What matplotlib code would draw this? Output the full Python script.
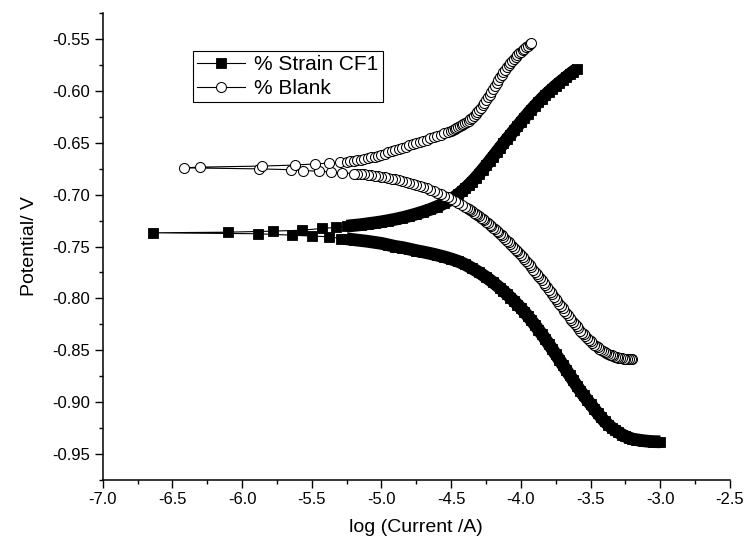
import matplotlib
matplotlib.use("Agg")
import matplotlib.pyplot as plt
from matplotlib.ticker import MultipleLocator, FormatStrFormatter

plt.rcParams['font.family'] = ['Liberation Sans', 'DejaVu Sans']
plt.rcParams['axes.unicode_minus'] = False

# ---- % Strain CF1 : potential sweep, cathodic branch -> near Ecorr -> anodic branch
cf1_cath_logi = [-3.000, -3.025, -3.050, -3.075, -3.100, -3.125, -3.150, -3.175, -3.200, -3.225,
                 -3.250, -3.275, -3.300, -3.325, -3.350, -3.375, -3.400, -3.425, -3.450, -3.475,
                 -3.500, -3.525, -3.550, -3.575, -3.600, -3.625, -3.650, -3.675, -3.700, -3.725,
                 -3.750, -3.775, -3.800, -3.825, -3.850, -3.875, -3.900, -3.925, -3.950, -3.975,
                 -4.000, -4.025, -4.050, -4.075, -4.100, -4.125, -4.150, -4.200, -4.250, -4.300,
                 -4.350, -4.400, -4.450, -4.500, -4.550, -4.600, -4.650, -4.700, -4.750, -4.800,
                 -4.850, -4.900, -4.950, -5.000, -5.050, -5.100, -5.150, -5.200, -5.250]
cf1_cath_E = [-0.9382, -0.9381, -0.9380, -0.9378, -0.9375, -0.9371, -0.9366, -0.9361, -0.9355, -0.9343,
              -0.9330, -0.9312, -0.9292, -0.9270, -0.9245, -0.9216, -0.9185, -0.9146, -0.9105, -0.9063,
              -0.9020, -0.8978, -0.8935, -0.8888, -0.8840, -0.8790, -0.8740, -0.8690, -0.8640, -0.8590,
              -0.8540, -0.8490, -0.8440, -0.8392, -0.8345, -0.8300, -0.8255, -0.8212, -0.8170, -0.8132,
              -0.8095, -0.8060, -0.8025, -0.7992, -0.7960, -0.7930, -0.7900, -0.7845, -0.7795, -0.7750,
              -0.7710, -0.7673, -0.7643, -0.7620, -0.7600, -0.7583, -0.7567, -0.7553, -0.7540, -0.7525,
              -0.7510, -0.7500, -0.7485, -0.7470, -0.7460, -0.7450, -0.7442, -0.7434, -0.7426]
cf1_ecorr_logi = [-5.292, -5.378, -5.495, -5.641, -5.889, -6.642, -6.102, -5.781, -5.569, -5.426, -5.323]
cf1_ecorr_E = [-0.7423, -0.7406, -0.7400, -0.7391, -0.7377, -0.7368, -0.7362, -0.7352, -0.7343, -0.7326, -0.7316]
cf1_anod_logi = [-5.250, -5.200, -5.150, -5.100, -5.050, -5.000, -4.950, -4.900, -4.850, -4.800,
                 -4.750, -4.700, -4.650, -4.600, -4.550, -4.500, -4.475, -4.450, -4.425, -4.400,
                 -4.375, -4.350, -4.325, -4.300, -4.275, -4.250, -4.225, -4.200, -4.175, -4.150,
                 -4.125, -4.100, -4.075, -4.050, -4.025, -4.000, -3.975, -3.950, -3.925, -3.900,
                 -3.875, -3.850, -3.825, -3.800, -3.775, -3.750, -3.725, -3.700, -3.675, -3.650,
                 -3.625, -3.600]
cf1_anod_E = [-0.7304, -0.7297, -0.7290, -0.7281, -0.7272, -0.7262, -0.7250, -0.7237, -0.7222, -0.7205,
              -0.7186, -0.7165, -0.7142, -0.7115, -0.7083, -0.7045, -0.7022, -0.6997, -0.6970, -0.6940,
              -0.6908, -0.6874, -0.6838, -0.6800, -0.6760, -0.6719, -0.6677, -0.6634, -0.6591, -0.6548,
              -0.6506, -0.6464, -0.6423, -0.6382, -0.6341, -0.6300, -0.6260, -0.6220, -0.6182, -0.6145,
              -0.6110, -0.6075, -0.6042, -0.6010, -0.5980, -0.5950, -0.5922, -0.5895, -0.5867, -0.5840,
              -0.5815, -0.5790]

# ---- % Blank
blank_cath_logi = [-3.2000, -3.2125, -3.2250, -3.2375, -3.2500, -3.2625, -3.2750, -3.2875, -3.3000, -3.3125,
                   -3.3250, -3.3375, -3.3500, -3.3625, -3.3750, -3.3875, -3.4000, -3.4125, -3.4250, -3.4375,
                   -3.4500, -3.4625, -3.4750, -3.4875, -3.5000, -3.5125, -3.5250, -3.5375, -3.5500, -3.5625,
                   -3.5750, -3.5875, -3.6000, -3.6125, -3.6250, -3.6375, -3.6500, -3.6625, -3.6750, -3.6875,
                   -3.7000, -3.7125, -3.7250, -3.7375, -3.7500, -3.7625, -3.7750, -3.7875, -3.8000, -3.8125,
                   -3.8250, -3.8375, -3.8500, -3.8625, -3.8750, -3.8875, -3.9000, -3.9125, -3.9250, -3.9375,
                   -3.9500, -3.9625, -3.9750, -3.9875, -4.0000, -4.0125, -4.0250, -4.0375, -4.0500, -4.0625,
                   -4.0750, -4.0875, -4.1000, -4.1125, -4.1250, -4.1375, -4.1500, -4.1625, -4.1750, -4.1875,
                   -4.2000, -4.2125, -4.2250, -4.2375, -4.2500, -4.2625, -4.2750, -4.2875, -4.3000, -4.3125,
                   -4.3250, -4.3375, -4.3500, -4.3625, -4.3750, -4.3875, -4.4000, -4.4250, -4.4500, -4.4750,
                   -4.5000, -4.5250, -4.5500, -4.5750, -4.6000, -4.6250, -4.6500, -4.6750, -4.7000, -4.7250,
                   -4.7500, -4.7750, -4.8000, -4.8250, -4.8500, -4.8750, -4.9000, -4.9250, -4.9500, -4.9750,
                   -5.0000, -5.0250, -5.0500, -5.0750, -5.1000, -5.1250, -5.1500, -5.1750, -5.2000]
blank_cath_E = [-0.8588, -0.8588, -0.8587, -0.8586, -0.8584, -0.8582, -0.8579, -0.8576, -0.8572, -0.8567,
                -0.8562, -0.8556, -0.8550, -0.8543, -0.8535, -0.8526, -0.8517, -0.8507, -0.8496, -0.8484,
                -0.8472, -0.8459, -0.8445, -0.8430, -0.8415, -0.8399, -0.8382, -0.8365, -0.8347, -0.8329,
                -0.8310, -0.8290, -0.8270, -0.8249, -0.8228, -0.8207, -0.8185, -0.8163, -0.8140, -0.8118,
                -0.8095, -0.8073, -0.8050, -0.8028, -0.8005, -0.7983, -0.7960, -0.7938, -0.7915, -0.7893,
                -0.7870, -0.7849, -0.7827, -0.7806, -0.7785, -0.7764, -0.7743, -0.7723, -0.7702, -0.7682,
                -0.7662, -0.7643, -0.7623, -0.7604, -0.7585, -0.7567, -0.7548, -0.7530, -0.7512, -0.7495,
                -0.7477, -0.7460, -0.7443, -0.7427, -0.7410, -0.7394, -0.7378, -0.7363, -0.7348, -0.7333,
                -0.7318, -0.7304, -0.7290, -0.7276, -0.7262, -0.7249, -0.7236, -0.7223, -0.7210, -0.7198,
                -0.7186, -0.7174, -0.7162, -0.7151, -0.7140, -0.7129, -0.7118, -0.7098, -0.7078, -0.7060,
                -0.7042, -0.7026, -0.7010, -0.6995, -0.6980, -0.6966, -0.6952, -0.6939, -0.6927, -0.6916,
                -0.6905, -0.6895, -0.6885, -0.6876, -0.6867, -0.6859, -0.6852, -0.6845, -0.6838, -0.6832,
                -0.6827, -0.6822, -0.6818, -0.6814, -0.6810, -0.6806, -0.6803, -0.6800, -0.6797]
blank_ecorr_logi = [-5.280, -5.360, -5.450, -5.560, -5.650, -5.880, -6.420, -6.300, -5.860, -5.620,
                    -5.480, -5.380, -5.300]
blank_ecorr_E = [-0.6790, -0.6782, -0.6775, -0.6768, -0.6760, -0.6752, -0.6742, -0.6735, -0.6725, -0.6715,
                 -0.6705, -0.6697, -0.6690]
blank_anod_logi = [-5.2500, -5.2250, -5.2000, -5.1750, -5.1500, -5.1250, -5.1000, -5.0750, -5.0500, -5.0250,
                   -5.0000, -4.9750, -4.9500, -4.9250, -4.9000, -4.8750, -4.8500, -4.8250, -4.8000, -4.7750,
                   -4.7500, -4.7250, -4.7000, -4.6750, -4.6500, -4.6250, -4.6000, -4.5750, -4.5500, -4.5250,
                   -4.5000, -4.4875, -4.4750, -4.4625, -4.4500, -4.4375, -4.4250, -4.4125, -4.4000, -4.3875,
                   -4.3750, -4.3625, -4.3500, -4.3375, -4.3250, -4.3125, -4.3000, -4.2875, -4.2750, -4.2625,
                   -4.2500, -4.2375, -4.2250, -4.2125, -4.2000, -4.1875, -4.1750, -4.1625, -4.1500, -4.1375,
                   -4.1250, -4.1125, -4.1000, -4.0875, -4.0750, -4.0625, -4.0500, -4.0375, -4.0250, -4.0125,
                   -4.0000, -3.9875, -3.9750, -3.9625, -3.9500, -3.9375, -3.9250]
blank_anod_E = [-0.6685, -0.6680, -0.6675, -0.6669, -0.6663, -0.6657, -0.6650, -0.6642, -0.6634, -0.6625,
                -0.6615, -0.6605, -0.6594, -0.6583, -0.6572, -0.6561, -0.6549, -0.6538, -0.6526, -0.6515,
                -0.6503, -0.6492, -0.6480, -0.6469, -0.6457, -0.6446, -0.6434, -0.6422, -0.6410, -0.6397,
                -0.6384, -0.6377, -0.6369, -0.6361, -0.6352, -0.6343, -0.6333, -0.6323, -0.6312, -0.6300,
                -0.6288, -0.6275, -0.6261, -0.6244, -0.6225, -0.6206, -0.6185, -0.6163, -0.6140, -0.6116,
                -0.6090, -0.6063, -0.6036, -0.6008, -0.5980, -0.5952, -0.5925, -0.5897, -0.5870, -0.5845,
                -0.5820, -0.5796, -0.5772, -0.5751, -0.5730, -0.5710, -0.5690, -0.5672, -0.5655, -0.5639,
                -0.5623, -0.5608, -0.5594, -0.5580, -0.5567, -0.5553, -0.5540]

cf1_x = cf1_cath_logi + cf1_ecorr_logi + cf1_anod_logi
cf1_y = cf1_cath_E + cf1_ecorr_E + cf1_anod_E
blank_x = blank_cath_logi + blank_ecorr_logi + blank_anod_logi
blank_y = blank_cath_E + blank_ecorr_E + blank_anod_E

fig = plt.figure(figsize=(7.46, 5.48), dpi=100)
ax = fig.add_axes([102.7 / 746, 1 - 480 / 548, (730 - 102.7) / 746, (480 - 13) / 548])

# dense parts of CF1 merge into a solid band
ax.plot(cf1_cath_logi, cf1_cath_E, color='black', lw=9.2, solid_capstyle='butt',
        solid_joinstyle='round')
ax.plot(cf1_anod_logi, cf1_anod_E, color='black', lw=9.2, solid_capstyle='butt',
        solid_joinstyle='round')
ax.plot(cf1_x, cf1_y, color='black', lw=0.8, marker='s', ms=6.8, mfc='black', mec='black',
        mew=0.6, label='% Strain CF1')
ax.plot(blank_x, blank_y, color='black', lw=0.8, marker='o', ms=7.2, mfc='white', mec='black',
        mew=0.75, label='% Blank')

ax.set_xlim(-7.0, -2.5)
ax.set_ylim(-0.975, -0.525)
ax.xaxis.set_major_locator(MultipleLocator(0.5))
ax.xaxis.set_minor_locator(MultipleLocator(0.25))
ax.yaxis.set_major_locator(MultipleLocator(0.05))
ax.yaxis.set_minor_locator(MultipleLocator(0.025))
ax.xaxis.set_major_formatter(FormatStrFormatter('%.1f'))
ax.yaxis.set_major_formatter(FormatStrFormatter('%.2f'))

for s in ['top', 'right']:
    ax.spines[s].set_visible(False)
for s in ['left', 'bottom']:
    ax.spines[s].set_linewidth(1.1)
ax.tick_params(which='major', direction='out', length=6, width=1.0, labelsize=12, pad=3)
ax.tick_params(which='minor', direction='out', length=3, width=1.0)

ax.set_xlabel('log (Current /A)', fontsize=14, labelpad=8)
ax.set_ylabel('Potential/ V', fontsize=14, labelpad=10)

leg = ax.legend(loc='upper left', bbox_to_anchor=(0.1435, 0.919), borderaxespad=0,
                fancybox=False, edgecolor='black', framealpha=1, fontsize=15,
                handlelength=2.3, handletextpad=0.45, borderpad=0.2, labelspacing=0.25)
leg.get_frame().set_linewidth(0.8)

fig.savefig('out.png', dpi=100)
